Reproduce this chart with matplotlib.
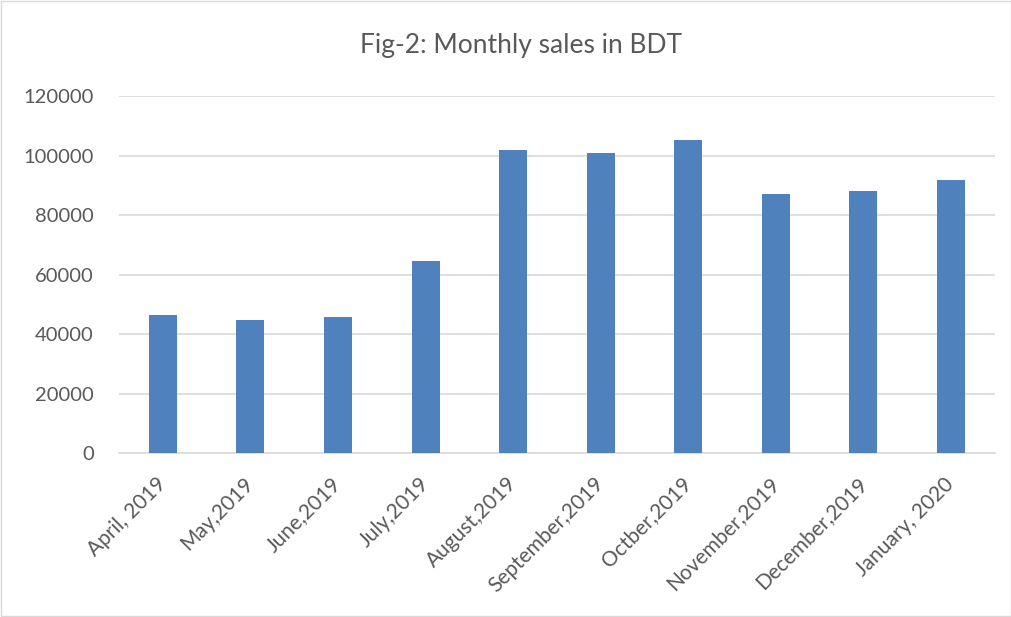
import matplotlib
matplotlib.use("Agg")
import matplotlib.pyplot as plt
from matplotlib.patches import Rectangle

months = ["April, 2019", "May,2019", "June,2019", "July,2019", "August,2019",
          "September,2019", "Octber,2019", "November,2019", "December,2019", "January, 2020"]
sales = [46300, 44700, 45600, 64500, 102000, 101000, 105100, 87000, 88000, 91900]
yticks = [0, 20000, 40000, 60000, 80000, 100000, 120000]

plt.rcParams['font.family'] = ['Lato', 'DejaVu Sans']

fig = plt.figure(figsize=(10.12, 6.17), dpi=100)
ax = fig.add_axes([0.1176, 0.2658, 0.8654, 0.5786])

x = list(range(len(months)))
ax.bar(x, sales, width=0.32, color="#4f81bd", zorder=3)
ax.set_xlim(-0.5, len(months) - 0.5)
ax.set_ylim(0, 120000)
ax.set_yticks(yticks)
ax.set_yticklabels([str(v) for v in yticks], fontsize=14.5, color="#595959")
ax.set_xticks(x)
ax.set_xticklabels(months, rotation=45, ha="right", va="center", rotation_mode="anchor",
                   fontsize=15, color="#595959")
ax.tick_params(axis="both", length=0)
ax.tick_params(axis="x", pad=20)
ax.tick_params(axis="y", pad=18)
ax.grid(axis="y", color="#d9d9d9", linewidth=1.2, zorder=0)
for s in ["top", "right", "left"]:
    ax.spines[s].set_visible(False)
ax.spines["bottom"].set_color("#d9d9d9")
ax.spines["bottom"].set_linewidth(1.2)

fig.text(0.5147, 0.927, "Fig-2: Monthly sales in BDT", ha="center", va="center",
         fontsize=19, color="#595959")
fig.patches.append(Rectangle((0.001, 0.001), 0.998, 0.998, transform=fig.transFigure,
                             fill=False, edgecolor="#d9d9d9", linewidth=1))

fig.savefig("out.png", dpi=100)
